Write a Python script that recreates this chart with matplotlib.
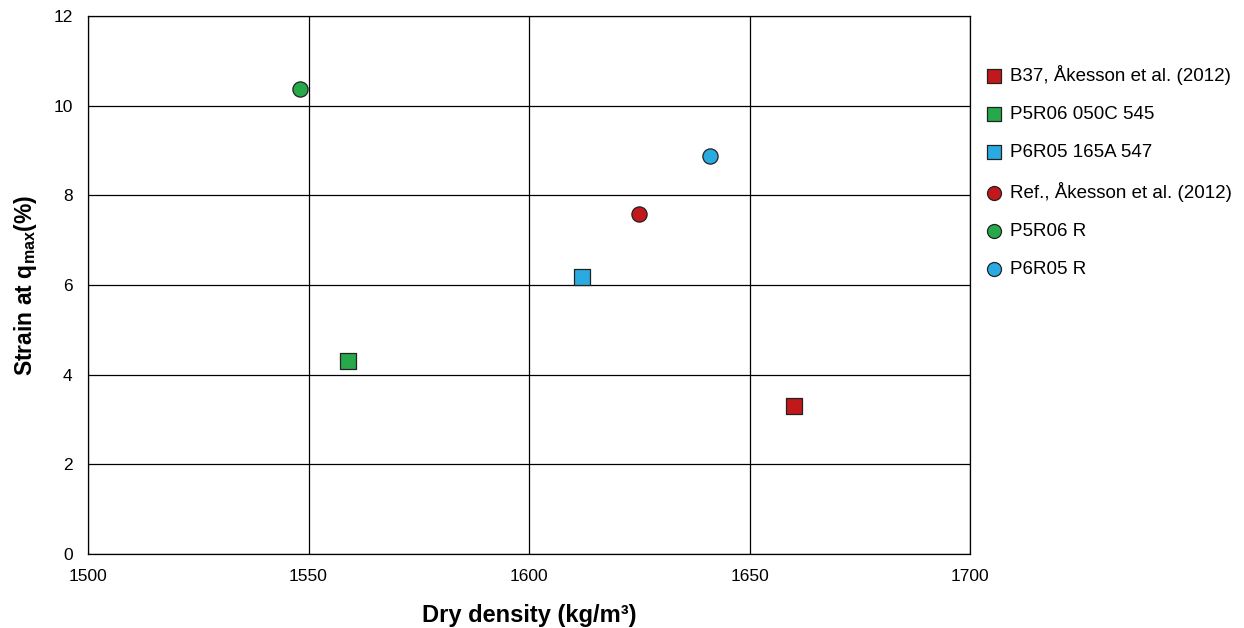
import matplotlib
matplotlib.use("Agg")
import matplotlib.pyplot as plt

plt.rcParams['font.family'] = ['Liberation Sans', 'DejaVu Sans']
plt.rcParams['mathtext.fontset'] = 'custom'
plt.rcParams['mathtext.rm'] = 'Liberation Sans'
plt.rcParams['mathtext.bf'] = 'Liberation Sans:bold'

labels = ["B37, Åkesson et al. (2012)", "P5R06 050C 545", "P6R05 165A 547",
          "Ref., Åkesson et al. (2012)", "P5R06 R", "P6R05 R"]
density = [1660, 1559, 1612, 1625, 1548, 1641]
strain = [3.3, 4.3, 6.18, 7.58, 10.37, 8.88]
colors = ["#C0181B", "#27A84A", "#29ABE2", "#C0181B", "#27A84A", "#29ABE2"]
markers = ["s", "s", "s", "o", "o", "o"]

fig = plt.figure(figsize=(12.44, 6.28), dpi=100)
ax = fig.add_axes([88/1244, 74/628, 882/1244, 538/628])

for lab, xv, yv, c, m in zip(labels, density, strain, colors, markers):
    ax.scatter([xv], [yv], s=120, marker=m, color=c, edgecolors="#222222",
               linewidths=0.9, label=lab, zorder=3)

ax.set_xlim(1500, 1700)
ax.set_ylim(0, 12)
ax.set_xticks([1500, 1550, 1600, 1650, 1700])
ax.set_yticks(range(0, 13, 2))
ax.grid(True, color="black", linewidth=0.9, zorder=0)
ax.set_axisbelow(True)
ax.tick_params(labelsize=12.5, length=0)
ax.tick_params(axis="x", pad=10.5)
ax.tick_params(axis="y", pad=11)
for s in ax.spines.values():
    s.set_linewidth(0.9)

ax.set_xlabel("Dry density (kg/m³)", fontsize=17, fontweight="bold", labelpad=15)
ax.set_ylabel(r"Strain at q$_{\mathbf{max}}$(%)", fontsize=16.5, fontweight="bold", labelpad=10)

fig.legend(loc="upper left", bbox_to_anchor=(963/1244, 1 - 48/628), frameon=False,
           fontsize=13.5, labelspacing=1.12, handletextpad=0.1, markerscale=0.92,
           handlelength=1.5)

fig.savefig("out.png", dpi=100)
